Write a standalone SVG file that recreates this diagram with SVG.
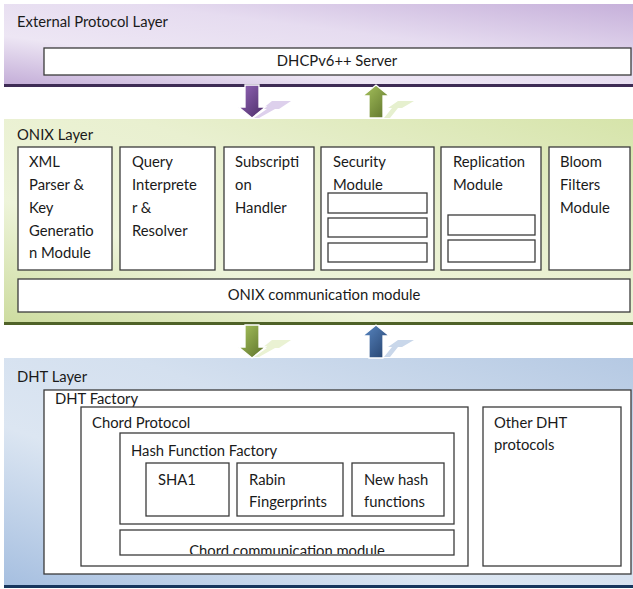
<svg xmlns="http://www.w3.org/2000/svg" width="633" height="589" viewBox="0 0 633 589">
  <defs>
    <linearGradient id="gPurple" x1="0" y1="1" x2="1" y2="0">
      <stop offset="0" stop-color="#c4aed8"/>
      <stop offset="0.3" stop-color="#ede6f4"/>
      <stop offset="0.6" stop-color="#e6dcf0"/>
      <stop offset="1" stop-color="#c6b0da"/>
    </linearGradient>
    <linearGradient id="gGreen" x1="0" y1="1" x2="1" y2="0">
      <stop offset="0" stop-color="#cddca0"/>
      <stop offset="0.3" stop-color="#eef4da"/>
      <stop offset="0.6" stop-color="#e9f0d0"/>
      <stop offset="1" stop-color="#d6e4aa"/>
    </linearGradient>
    <linearGradient id="gBlue" x1="0" y1="1" x2="1" y2="0">
      <stop offset="0" stop-color="#a6bfe0"/>
      <stop offset="0.35" stop-color="#dce6f2"/>
      <stop offset="0.6" stop-color="#d4e0ef"/>
      <stop offset="1" stop-color="#b5c9e3"/>
    </linearGradient>
    <linearGradient id="aPurple" x1="0" y1="0" x2="1" y2="1">
      <stop offset="0" stop-color="#9466b8"/>
      <stop offset="1" stop-color="#4a2c66"/>
    </linearGradient>
    <linearGradient id="aGreen" x1="0" y1="0" x2="1" y2="1">
      <stop offset="0" stop-color="#a8c45e"/>
      <stop offset="1" stop-color="#5b7029"/>
    </linearGradient>
    <linearGradient id="aBlue" x1="0" y1="0" x2="1" y2="1">
      <stop offset="0" stop-color="#5a88c4"/>
      <stop offset="1" stop-color="#233f69"/>
    </linearGradient>
    <clipPath id="clipChordComm">
      <rect x="121" y="531" width="332" height="23"/>
    </clipPath>
    <!-- down arrow centred on x=0, spanning y 0..33 -->
    <path id="downArrow" d="M -7 0 H 7 V 22 H 13.5 L 0 33 L -13.5 22 H -7 Z"/>
    <path id="upArrow" d="M -7 33 H 7 V 11 H 13.5 L 0 0 L -13.5 11 H -7 Z"/>
  </defs>
  <style>
    text { font-family: Lato, "Liberation Sans", sans-serif; font-size: 14.8px; fill: #1a1a1a; }
    .box { fill: #ffffff; stroke: #3b3b3b; stroke-width: 1.3; }
    .mid { text-anchor: middle; }
    .arrow { stroke: #ffffff; stroke-width: 1.3; }
  </style>

  <!-- External protocol layer -->
  <g id="external-layer">
    <rect x="4" y="4" width="630" height="80" fill="url(#gPurple)"/>
    <rect x="4" y="84" width="630" height="3" fill="#3e2c55"/>
    <text x="17" y="27">External Protocol Layer</text>
    <g id="dhcp-server">
      <rect class="box" x="44" y="48" width="587" height="27"/>
      <text class="mid" x="337" y="66">DHCPv6++ Server</text>
    </g>
  </g>

  <!-- ONIX layer -->
  <g id="onix-layer">
    <rect x="4" y="119" width="630" height="203" fill="url(#gGreen)"/>
    <rect x="4" y="322" width="630" height="3" fill="#4f6228"/>
    <text x="17" y="140">ONIX Layer</text>
  </g>
  <g id="xml-parser">
    <rect class="box" x="18" y="147" width="94" height="123"/>
    <text x="29" y="167">XML</text>
    <text x="29" y="190">Parser &amp;</text>
    <text x="29" y="213">Key</text>
    <text x="29" y="236">Generatio</text>
    <text x="29" y="258">n Module</text>
  </g>
  <g id="query-interpreter">
    <rect class="box" x="120" y="147" width="95" height="123"/>
    <text x="132" y="167">Query</text>
    <text x="132" y="190">Interprete</text>
    <text x="132" y="213">r &amp;</text>
    <text x="132" y="236">Resolver</text>
  </g>
  <g id="subscription-handler">
    <rect class="box" x="224" y="147" width="90" height="123"/>
    <text x="235" y="167">Subscripti</text>
    <text x="235" y="190">on</text>
    <text x="235" y="213">Handler</text>
  </g>
  <g id="security-module">
    <rect class="box" x="321" y="147" width="113" height="123"/>
    <text x="333" y="167">Security</text>
    <text x="333" y="190">Module</text>
    <rect class="box" x="328" y="193" width="99" height="20"/>
    <rect class="box" x="328" y="218" width="99" height="19"/>
    <rect class="box" x="328" y="243" width="99" height="19"/>
  </g>
  <g id="replication-module">
    <rect class="box" x="441" y="147" width="100" height="123"/>
    <text x="453" y="167">Replication</text>
    <text x="453" y="190">Module</text>
    <rect class="box" x="448" y="215" width="87" height="20"/>
    <rect class="box" x="448" y="240" width="87" height="22"/>
  </g>
  <g id="bloom-filters">
    <rect class="box" x="549" y="147" width="81" height="123"/>
    <text x="560" y="167">Bloom</text>
    <text x="560" y="190">Filters</text>
    <text x="560" y="213">Module</text>
  </g>
  <g id="onix-communication">
    <rect class="box" x="18" y="279" width="612" height="33"/>
    <text class="mid" x="324" y="300">ONIX communication module</text>
  </g>

  <!-- DHT layer -->
  <g id="dht-layer">
    <rect x="4" y="358" width="630" height="227" fill="url(#gBlue)"/>
    <rect x="4" y="585" width="630" height="3" fill="#17365d"/>
    <text x="17" y="382">DHT Layer</text>
  </g>
  <g id="dht-factory">
    <rect class="box" x="44" y="390" width="587" height="184"/>
    <text x="55" y="404">DHT Factory</text>
  </g>
  <g id="chord-protocol">
    <rect class="box" x="81" y="407" width="387" height="159"/>
    <text x="92" y="428">Chord Protocol</text>
  </g>
  <g id="other-dht-protocols">
    <rect class="box" x="483" y="407" width="138" height="159"/>
    <text x="494" y="428">Other DHT</text>
    <text x="494" y="450">protocols</text>
  </g>
  <g id="hash-function-factory">
    <rect class="box" x="120" y="433" width="334" height="91"/>
    <text x="131" y="456">Hash Function Factory</text>
  </g>
  <g id="sha1">
    <rect class="box" x="146" y="463" width="83" height="53"/>
    <text x="158" y="485">SHA1</text>
  </g>
  <g id="rabin-fingerprints">
    <rect class="box" x="237" y="463" width="106" height="53"/>
    <text x="249" y="485">Rabin</text>
    <text x="249" y="507">Fingerprints</text>
  </g>
  <g id="new-hash-functions">
    <rect class="box" x="352" y="463" width="92" height="53"/>
    <text x="364" y="485">New hash</text>
    <text x="364" y="507">functions</text>
  </g>
  <g id="chord-communication">
    <rect class="box" x="120" y="530" width="334" height="25"/>
    <text class="mid" x="287" y="555.5" clip-path="url(#clipChordComm)">Chord communication module</text>
  </g>

  <!-- connectors between layers: block arrows with soft cast shadows -->
  <g id="connectors">
    <polygon points="254,118 267,109 262,109 272,101 291,101 279,109 275,109 259,118" fill="#ddd0ec"/>
    <use href="#downArrow" x="252" y="85" class="arrow" fill="url(#aPurple)"/>
    <polygon points="384,118 392,108 388,108 398,101 414,101 402,108 398,108 390,118" fill="#e6f0cf"/>
    <use href="#upArrow" x="376" y="85" class="arrow" fill="url(#aGreen)"/>

    <polygon points="254,357 267,348 262,348 272,340 291,340 279,348 275,348 259,357" fill="#eaf2d3"/>
    <use href="#downArrow" x="252" y="325" class="arrow" fill="url(#aGreen)"/>
    <polygon points="384,357 392,347 388,347 398,340 414,340 402,347 398,347 390,357" fill="#c9d7ea"/>
    <use href="#upArrow" x="376" y="325" class="arrow" fill="url(#aBlue)"/>
  </g>
</svg>
